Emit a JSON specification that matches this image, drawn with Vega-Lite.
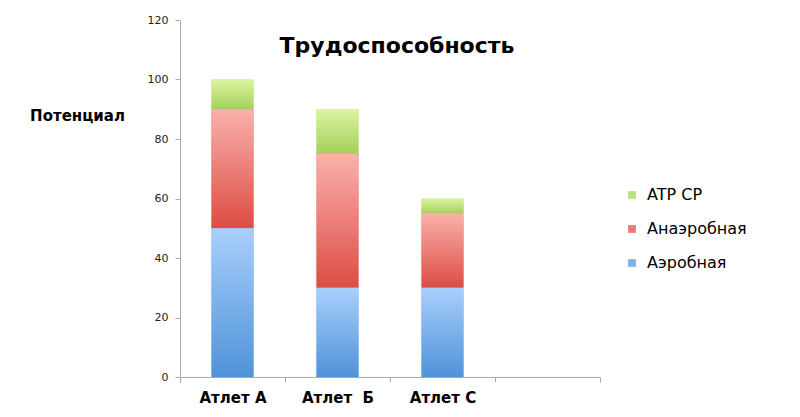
{
  "$schema": "https://vega.github.io/schema/vega-lite/v6.json",
  "autosize": "none",
  "width": 420,
  "height": 357,
  "padding": {"left": 180, "top": 20, "right": 200, "bottom": 40},
  "background": "white",
  "config": {"view": {"stroke": null}, "font": "DejaVu Sans"},
  "title": {
    "text": "Трудоспособность",
    "fontSize": 22,
    "fontWeight": "bold",
    "font": "DejaVu Sans",
    "color": "black",
    "anchor": "middle",
    "frame": "group",
    "dy": 48,
    "dx": 7
  },
  "data": {
    "values": [
      {"athlete": "Атлет А", "type": "Аэробная", "value": 50},
      {"athlete": "Атлет А", "type": "Анаэробная", "value": 40},
      {"athlete": "Атлет А", "type": "ATP CP", "value": 10},
      {"athlete": "Атлет \u00a0Б", "type": "Аэробная", "value": 30},
      {"athlete": "Атлет \u00a0Б", "type": "Анаэробная", "value": 45},
      {"athlete": "Атлет \u00a0Б", "type": "ATP CP", "value": 15},
      {"athlete": "Атлет С", "type": "Аэробная", "value": 30},
      {"athlete": "Атлет С", "type": "Анаэробная", "value": 25},
      {"athlete": "Атлет С", "type": "ATP CP", "value": 5}
    ]
  },
  "transform": [
    {"stack": "value", "groupby": ["athlete"], "as": ["v0", "v1"], "sort": [{"field": "type", "order": "descending"}]}
  ],
  "encoding": {
    "x": {
      "field": "athlete",
      "type": "nominal",
      "sort": null,
      "scale": {"domain": ["Атлет А", "Атлет \u00a0Б", "Атлет С", " "], "paddingInner": 0, "paddingOuter": 0},
      "axis": {
        "title": null,
        "labelAngle": 0,
        "labelFontWeight": "bold",
        "labelFontSize": 15,
        "labelColor": "black",
        "labelPadding": 8,
        "tickBand": "extent",
        "tickSize": 5,
        "tickColor": "#aaaaaa",
        "domainColor": "#aaaaaa"
      }
    },
    "y": {
      "field": "v0",
      "type": "quantitative",
      "scale": {"domain": [0, 120], "nice": false},
      "axis": {
        "values": [0, 20, 40, 60, 80, 100, 120],
        "grid": false,
        "title": "Потенциал",
        "titleAngle": 0,
        "titleX": -103,
        "titleY": 95,
        "titleAlign": "center",
        "titleBaseline": "middle",
        "titleFontWeight": "bold",
        "titleFontSize": 15,
        "titleColor": "black",
        "labelFontSize": 11,
        "labelColor": "#222222",
        "labelPadding": 7,
        "tickSize": 5,
        "tickColor": "#aaaaaa",
        "domainColor": "#aaaaaa"
      }
    },
    "y2": {"field": "v1"}
  },
  "layer": [
    {
      "mark": {"type": "bar", "width": {"band": 0.4}},
      "encoding": {
        "color": {
          "field": "type",
          "type": "nominal",
          "scale": {
            "domain": ["ATP CP", "Анаэробная", "Аэробная"],
            "range": ["#bfe07a", "#eb7a72", "#7cb2ec"]
          },
          "legend": {
            "title": null,
            "orient": "none",
            "legendX": 444,
            "legendY": 167,
            "symbolType": "square",
            "symbolSize": 60,
            "symbolStrokeWidth": 0,
            "labelFontSize": 16,
            "labelColor": "black",
            "labelOffset": 7,
            "rowPadding": 18
          }
        }
      }
    },
    {
      "transform": [{"filter": "datum.type === 'ATP CP'"}],
      "mark": {"type": "bar", "width": {"band": 0.4}, "fill": {"gradient": "linear", "x1": 0, "y1": 0, "x2": 0, "y2": 1, "stops": [{"offset": 0, "color": "#dcf5a0"}, {"offset": 1, "color": "#a5cf5a"}]}},
      "encoding": {}
    },
    {
      "transform": [{"filter": "datum.type === 'Анаэробная'"}],
      "mark": {"type": "bar", "width": {"band": 0.4}, "fill": {"gradient": "linear", "x1": 0, "y1": 0, "x2": 0, "y2": 1, "stops": [{"offset": 0, "color": "#fbb0ad"}, {"offset": 1, "color": "#dc4d43"}]}},
      "encoding": {}
    },
    {
      "transform": [{"filter": "datum.type === 'Аэробная'"}],
      "mark": {"type": "bar", "width": {"band": 0.4}, "fill": {"gradient": "linear", "x1": 0, "y1": 0, "x2": 0, "y2": 1, "stops": [{"offset": 0, "color": "#a9cffd"}, {"offset": 1, "color": "#4f93d9"}]}},
      "encoding": {}
    }
  ]
}
